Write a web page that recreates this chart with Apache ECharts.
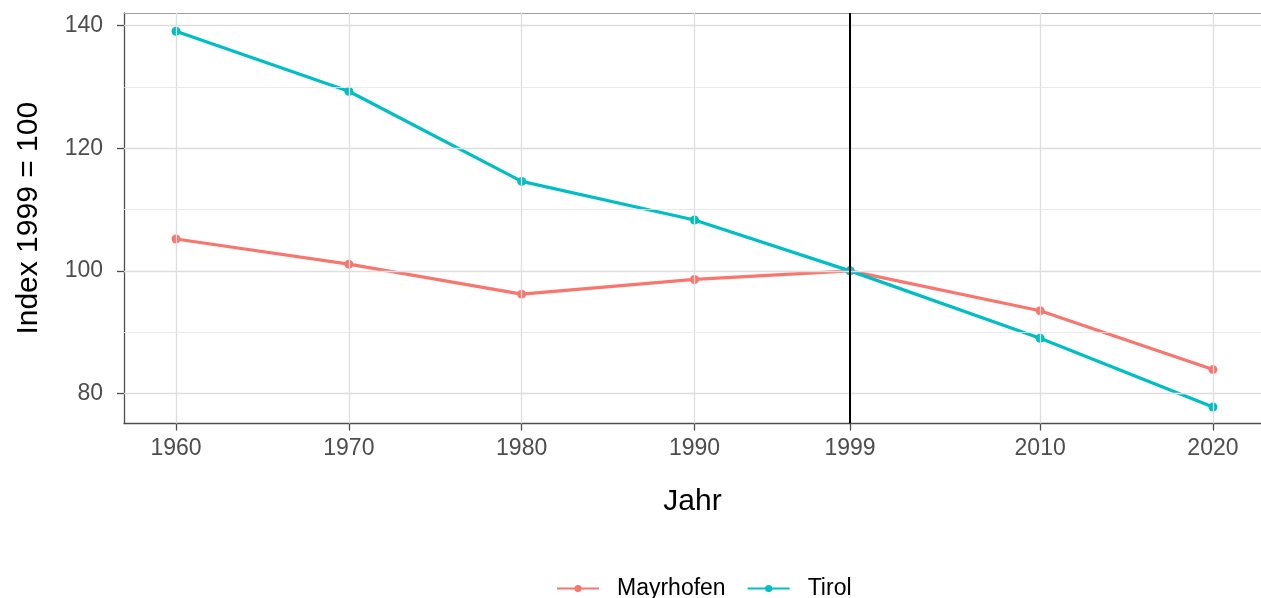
<!DOCTYPE html>
<html>
<head>
<meta charset="utf-8">
<script src="https://cdn.jsdelivr.net/npm/echarts@6/dist/echarts.min.js"></script>
<style>
html,body{margin:0;padding:0;background:#fff;}
#chart{width:1261px;height:598px;}
</style>
</head>
<body>
<div id="chart"></div>
<script>
const years = [1960, 1970, 1980, 1990, 1999, 2010, 2020];
const mayrhofen = [105.2, 101.1, 96.2, 98.6, 100, 93.5, 83.9];
const tirol = [139.1, 129.3, 114.6, 108.3, 100, 89.0, 77.8];
const xTicks = [1960, 1970, 1980, 1990, 1999, 2010, 2020];
const yMajor = [80, 100, 120, 140];
const yMinor = [90, 110, 130];
const refYear = 1999;

const chart = echarts.init(document.getElementById('chart'), null, {renderer: 'canvas'});
const font = 'Liberation Sans, Arial, sans-serif';

function pairs(vals) { return years.map((y, i) => [y, vals[i]]); }

const gridLines = [];
xTicks.forEach(v => gridLines.push({xAxis: v, lineStyle: {color: '#dedede', width: 1.3, type: 'solid'}}));
yMajor.forEach(v => gridLines.push({yAxis: v, lineStyle: {color: '#dedede', width: 1.3, type: 'solid'}}));
yMinor.forEach(v => gridLines.push({yAxis: v, lineStyle: {color: '#e6e6e6', width: 0.8, type: 'solid'}}));

const xMin = 1956.99, xMax = 2022.78;

const option = {
  animation: false,
  backgroundColor: '#fff',
  grid: {left: 124, right: 0, top: 13, bottom: 174.5, show: false, containLabel: false},
  xAxis: [{
    type: 'value', min: xMin, max: xMax,
    name: 'Jahr', nameLocation: 'middle', nameGap: 63,
    nameTextStyle: {fontSize: 30, color: '#000', fontFamily: font},
    axisLine: {show: true, lineStyle: {color: '#4d4d4d', width: 1.3}},
    axisTick: {show: true, customValues: xTicks, length: 7, lineStyle: {color: '#4d4d4d', width: 1.3}},
    axisLabel: {customValues: xTicks, fontSize: 23, color: '#4d4d4d', margin: 14, fontFamily: font,
      formatter: v => String(v)},
    splitLine: {show: false}
  }, {
    type: 'value', position: 'top', min: xMin, max: xMax,
    axisLine: {show: true, onZero: false, lineStyle: {color: '#a0a0a0', width: 1}},
    axisTick: {show: false}, axisLabel: {show: false}, splitLine: {show: false}
  }],
  yAxis: {
    type: 'value', min: 75.1, max: 142.07,
    name: 'Index 1999 = 100', nameLocation: 'middle', nameGap: 80, nameRotate: 90,
    nameTextStyle: {fontSize: 30, color: '#000', fontFamily: font},
    axisLine: {show: true, lineStyle: {color: '#4d4d4d', width: 1.3}},
    axisTick: {show: true, customValues: yMajor, length: 7, lineStyle: {color: '#4d4d4d', width: 1.3}},
    axisLabel: {customValues: yMajor, fontSize: 23, color: '#4d4d4d', margin: 21, fontFamily: font,
      formatter: v => String(v)},
    splitLine: {show: false}
  },
  legend: {
    top: 572, left: 551,
    itemWidth: 42, itemHeight: 9, itemGap: 21,
    textStyle: {fontSize: 23, color: '#000', fontFamily: font, padding: [0, 0, 0, 13]},
    data: ['Mayrhofen', 'Tirol']
  },
  series: [
    {
      name: 'grid', type: 'line', data: [], silent: true, z: 0,
      markLine: {silent: true, symbol: 'none', label: {show: false}, animation: false, data: gridLines}
    },
    {
      name: 'ref', type: 'line', data: [], silent: true, z: 1,
      markLine: {silent: true, symbol: 'none', label: {show: false}, animation: false,
        data: [{xAxis: refYear, lineStyle: {color: '#000', width: 2, type: 'solid'}}]}
    },
    {
      name: 'Mayrhofen', type: 'line', data: pairs(mayrhofen), z: 3,
      color: '#F8766D', symbol: 'circle', symbolSize: 9,
      lineStyle: {width: 3.2, color: '#F8766D'}, itemStyle: {color: '#F8766D', borderWidth: 0}
    },
    {
      name: 'Tirol', type: 'line', data: pairs(tirol), z: 3,
      color: '#00BFC4', symbol: 'circle', symbolSize: 9,
      lineStyle: {width: 3.2, color: '#00BFC4'}, itemStyle: {color: '#00BFC4', borderWidth: 0}
    }
  ]
};
chart.setOption(option);
</script>
</body>
</html>
